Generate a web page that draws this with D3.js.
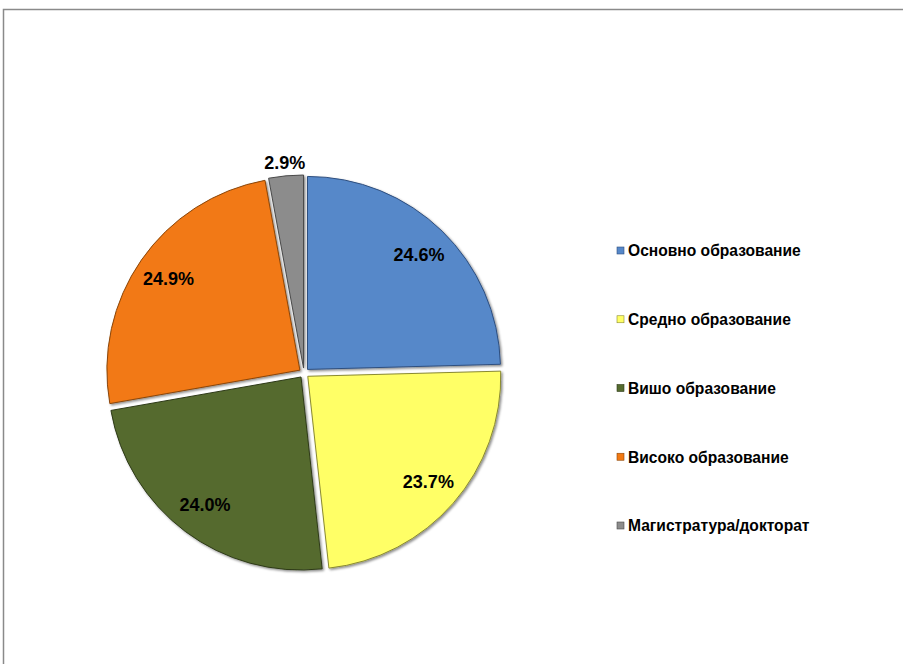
<!DOCTYPE html>
<html>
<head>
<meta charset="utf-8">
<script src="https://cdn.jsdelivr.net/npm/d3@7"></script>
<style>
body{margin:0;background:#fff;}
text{font-family:"Liberation Sans",Arial,sans-serif;font-weight:bold;}
</style>
</head>
<body>
<script>
var categories = ["Основно образование","Средно образование","Вишо образование","Високо образование","Магистратура/докторат"]
var values = [24.6,23.7,24.0,24.9,2.9]
var labels = ["24.6%","23.7%","24.0%","24.9%","2.9%"]
var colors = ["#5688C9","#FFFF66","#556B2F","#F27912","#8C8C8C"]
var strokes = ["#2F4F7F","#8A8A30","#2E3A18","#8A4508","#4A4A4A"]

var width = 903, height = 664
var cx = 304, cy = 373, radius = 193, explode = 5

var svg = d3.select("body").append("svg")
    .attr("width",width)
    .attr("height",height)

// frame
svg.append("rect")
    .attr("x",3.5).attr("y",9.5)
    .attr("width",1000).attr("height",1000)
    .attr("fill","none")
    .attr("stroke","#8a8a8a")
    .attr("stroke-width",1.5)

var defs = svg.append("defs")
var f = defs.append("filter").attr("id","shadow").attr("x","-10%").attr("y","-10%").attr("width","120%").attr("height","120%")
f.append("feDropShadow").attr("dx",1.5).attr("dy",1.5).attr("stdDeviation",1.2).attr("flood-color","#000").attr("flood-opacity",0.45)

var pie = d3.pie().sort(null).value(function(d){return d})
var arcs = pie(values)
var arc = d3.arc().innerRadius(0).outerRadius(radius)
var labelArc = d3.arc().innerRadius(160).outerRadius(160)
var outArc = d3.arc().innerRadius(206).outerRadius(206)

var g = svg.append("g").attr("transform","translate("+cx+","+cy+")")

var slices = g.selectAll(".slice").data(arcs).enter().append("g")
    .attr("transform",function(d){
        var a = (d.startAngle+d.endAngle)/2
        return "translate("+(Math.sin(a)*explode)+","+(-Math.cos(a)*explode)+")"
    })

slices.append("path")
    .attr("d",arc)
    .attr("fill",function(d,i){return colors[i]})
    .attr("stroke",function(d,i){return strokes[i]})
    .attr("stroke-width",1)
    .attr("filter","url(#shadow)")

slices.append("text")
    .attr("transform",function(d,i){
        var p = i==4 ? outArc.centroid(d) : labelArc.centroid(d)
        return "translate("+p[0]+","+p[1]+")"
    })
    .attr("text-anchor","middle")
    .attr("dy","0.36em")
    .attr("font-size","18px")
    .attr("fill","#000")
    .text(function(d,i){return labels[i]})

// legend
var legendY = d3.scalePoint().domain(categories).range([251,526])
var legend = svg.append("g").selectAll("g").data(categories).enter().append("g")
    .attr("transform",function(d){return "translate(617,"+legendY(d)+")"})

legend.append("rect")
    .attr("x",0).attr("y",-4)
    .attr("width",7).attr("height",7)
    .attr("fill",function(d,i){return colors[i]})
    .attr("stroke",function(d,i){return strokes[i]})
    .attr("stroke-width",0.6)

legend.append("text")
    .attr("x",11)
    .attr("dy","0.35em")
    .attr("font-size","15.6px")
    .attr("fill","#000")
    .text(function(d){return d})
</script>
</body>
</html>
